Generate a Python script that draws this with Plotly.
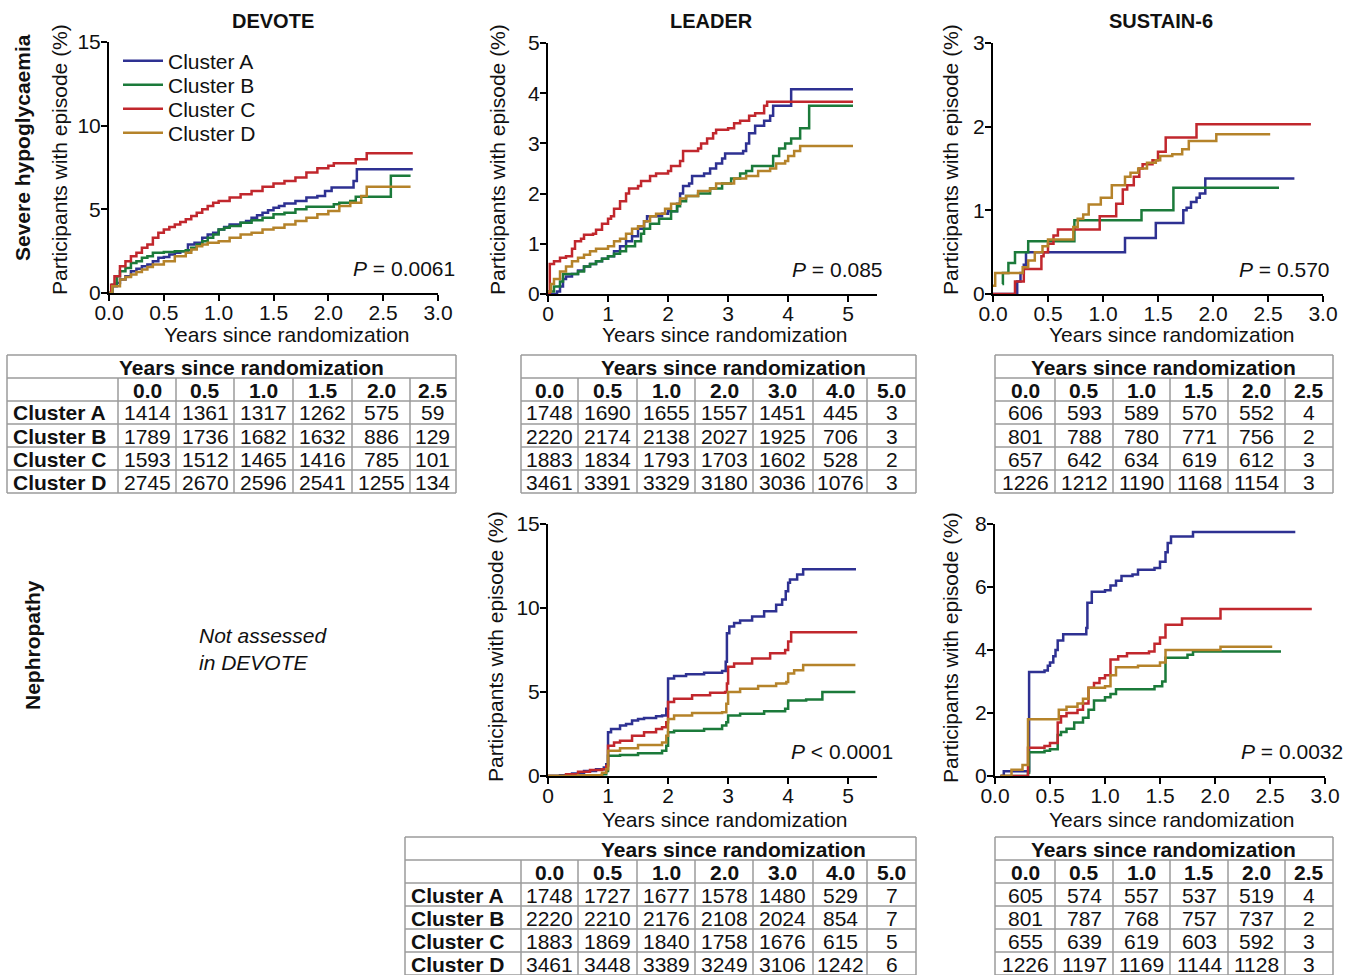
import plotly.graph_objects as go

W, H = 1358, 975
FONT = "Liberation Sans, Arial, sans-serif"
GRID = "#9b9b9b"
TXT = "#111111"


def fx(p):
    return p / W


def fy(p):
    return 1 - p / H


# ---------------- data ----------------
clusters = ["Cluster A", "Cluster B", "Cluster C", "Cluster D"]
colors = ["#2e3192", "#1b7a3a", "#c1272d", "#b5832a"]

# DEVOTE - severe hypoglycaemia
dev_t_A = [0, 0.03, 0.07, 0.1, 0.15, 0.2, 0.25, 0.3, 0.35, 0.4, 0.45, 0.5, 0.55, 0.6, 0.65, 0.72, 0.78, 0.85, 0.9, 0.95, 1.0, 1.05, 1.1, 1.2, 1.25, 1.3, 1.35, 1.4, 1.45, 1.5, 1.55, 1.6, 1.7, 1.8, 1.9, 1.97, 2.03, 2.23, 2.26, 2.77]
dev_y_A = [0, 0.4, 0.6, 0.8, 1.0, 1.3, 1.45, 1.6, 1.7, 1.9, 2.1, 2.15, 2.3, 2.4, 2.5, 2.9, 3.0, 3.3, 3.5, 3.6, 3.8, 3.95, 4.1, 4.2, 4.3, 4.5, 4.65, 4.8, 4.95, 5.1, 5.2, 5.35, 5.5, 5.7, 5.8, 6.1, 6.3, 6.7, 7.4, 7.4]
dev_t_B = [0, 0.03, 0.07, 0.1, 0.15, 0.2, 0.25, 0.3, 0.35, 0.4, 0.5, 0.6, 0.7, 0.75, 0.8, 0.85, 0.9, 0.95, 1.0, 1.05, 1.1, 1.2, 1.3, 1.4, 1.5, 1.6, 1.7, 1.8, 2.0, 2.05, 2.1, 2.2, 2.25, 2.57, 2.75]
dev_y_B = [0, 0.5, 1.0, 1.3, 1.5, 1.8, 1.9, 2.1, 2.2, 2.4, 2.45, 2.5, 2.55, 2.7, 2.9, 3.1, 3.3, 3.5, 3.8, 3.9, 4.0, 4.2, 4.35, 4.5, 4.7, 4.8, 5.0, 5.15, 5.15, 5.3, 5.4, 5.5, 5.75, 7.0, 7.0]
dev_t_C = [0, 0.02, 0.05, 0.1, 0.15, 0.2, 0.25, 0.3, 0.35, 0.4, 0.45, 0.5, 0.55, 0.6, 0.65, 0.7, 0.75, 0.8, 0.85, 0.9, 0.95, 1.0, 1.1, 1.2, 1.3, 1.4, 1.5, 1.6, 1.7, 1.8, 1.9, 2.0, 2.05, 2.25, 2.35, 2.77]
dev_y_C = [0, 0.5, 1.0, 1.6, 1.9, 2.2, 2.4, 2.7, 2.9, 3.3, 3.6, 3.8, 3.95, 4.1, 4.25, 4.4, 4.6, 4.8, 5.0, 5.2, 5.4, 5.5, 5.7, 5.9, 6.1, 6.35, 6.55, 6.7, 6.9, 7.2, 7.45, 7.6, 7.75, 8.0, 8.35, 8.35]
dev_t_D = [0, 0.03, 0.1, 0.15, 0.2, 0.25, 0.3, 0.35, 0.4, 0.5, 0.6, 0.7, 0.75, 0.8, 0.85, 0.9, 1.0, 1.1, 1.2, 1.3, 1.4, 1.5, 1.6, 1.7, 1.8, 1.9, 2.0, 2.1, 2.2, 2.3, 2.35, 2.75]
dev_y_D = [0, 0.4, 0.8, 0.95, 1.1, 1.25, 1.4, 1.55, 1.7, 1.9, 2.2, 2.4, 2.6, 2.8, 2.9, 3.0, 3.1, 3.3, 3.5, 3.6, 3.8, 3.9, 4.1, 4.3, 4.5, 4.7, 4.9, 5.2, 5.4, 5.8, 6.35, 6.35]

# LEADER - severe hypoglycaemia
lh_t_A = [0, 0.15, 0.2, 0.25, 0.3, 0.4, 0.5, 0.6, 0.7, 0.8, 0.9, 1.0, 1.1, 1.2, 1.3, 1.4, 1.5, 1.6, 1.65, 1.9, 2.0, 2.15, 2.2, 2.25, 2.35, 2.4, 2.6, 2.7, 2.8, 2.9, 2.95, 3.25, 3.3, 3.35, 3.45, 3.6, 3.7, 3.75, 4.05, 5.08]
lh_y_A = [0, 0.05, 0.15, 0.3, 0.35, 0.4, 0.47, 0.55, 0.6, 0.65, 0.7, 0.75, 0.85, 0.95, 1.05, 1.15, 1.3, 1.45, 1.55, 1.6, 1.65, 1.8, 2.0, 2.15, 2.2, 2.35, 2.4, 2.5, 2.6, 2.7, 2.8, 2.85, 3.0, 3.2, 3.35, 3.45, 3.55, 3.75, 4.08, 4.08]
lh_t_B = [0, 0.1, 0.2, 0.25, 0.5, 0.6, 0.7, 0.8, 0.9, 1.0, 1.1, 1.2, 1.3, 1.45, 1.55, 1.6, 1.7, 1.85, 2.05, 2.15, 2.2, 2.3, 2.5, 2.7, 2.9, 3.05, 3.2, 3.3, 3.4, 3.75, 3.85, 3.95, 4.05, 4.2, 4.35, 5.08]
lh_y_B = [0.05, 0.15, 0.25, 0.4, 0.45, 0.55, 0.6, 0.65, 0.7, 0.75, 0.8, 0.85, 0.95, 1.05, 1.2, 1.3, 1.4, 1.5, 1.65, 1.75, 1.85, 1.95, 2.0, 2.1, 2.2, 2.3, 2.4, 2.45, 2.55, 2.75, 2.9, 3.0, 3.1, 3.3, 3.75, 3.75]
lh_t_C = [0, 0.03, 0.1, 0.2, 0.3, 0.4, 0.45, 0.55, 0.6, 0.75, 0.8, 0.9, 1.0, 1.05, 1.1, 1.2, 1.3, 1.35, 1.5, 1.55, 1.7, 1.8, 2.0, 2.05, 2.2, 2.25, 2.5, 2.55, 2.65, 2.75, 2.8, 3.0, 3.1, 3.2, 3.35, 3.45, 3.6, 3.65, 5.08]
lh_y_C = [0, 0.6, 0.65, 0.72, 0.75, 0.9, 1.05, 1.1, 1.18, 1.2, 1.28, 1.4, 1.5, 1.55, 1.7, 1.85, 2.0, 2.1, 2.15, 2.25, 2.35, 2.4, 2.45, 2.55, 2.65, 2.85, 2.9, 3.0, 3.1, 3.2, 3.27, 3.3, 3.4, 3.45, 3.55, 3.6, 3.75, 3.83, 3.83]
lh_t_D = [0, 0.05, 0.1, 0.2, 0.3, 0.4, 0.5, 0.6, 0.7, 0.8, 1.0, 1.1, 1.2, 1.3, 1.4, 1.5, 1.6, 1.7, 1.8, 1.95, 2.05, 2.2, 2.3, 2.5, 2.7, 2.8, 3.1, 3.3, 3.5, 3.7, 3.8, 3.95, 4.0, 4.1, 4.2, 5.08]
lh_y_D = [0.05, 0.2, 0.3, 0.45, 0.55, 0.65, 0.72, 0.78, 0.85, 0.9, 0.95, 1.05, 1.1, 1.2, 1.3, 1.35, 1.45, 1.55, 1.6, 1.7, 1.8, 1.9, 1.95, 2.05, 2.1, 2.2, 2.3, 2.35, 2.45, 2.5, 2.6, 2.65, 2.75, 2.85, 2.95, 2.95]

# SUSTAIN-6 - severe hypoglycaemia
sh_t_A = [0, 0.2, 0.22, 0.25, 0.28, 0.3, 1.2, 1.48, 1.73, 1.76, 1.8, 1.85, 1.88, 1.93, 2.74]
sh_y_A = [0, 0, 0.15, 0.25, 0.35, 0.5, 0.67, 0.85, 1.0, 1.03, 1.1, 1.15, 1.2, 1.38, 1.38]
sh_t_B = [0.085, 0.09, 0.14, 0.2, 0.32, 0.74, 1.35, 1.64, 2.6]
sh_y_B = [0.12, 0.25, 0.37, 0.5, 0.63, 0.88, 1.0, 1.27, 1.27]
sh_t_C = [0, 0.19, 0.2, 0.28, 0.3, 0.44, 0.46, 0.5, 0.55, 0.59, 0.97, 1.12, 1.18, 1.22, 1.28, 1.33, 1.36, 1.45, 1.5, 1.57, 1.85, 2.89]
sh_y_C = [0, 0, 0.15, 0.3, 0.3, 0.45, 0.5, 0.6, 0.7, 0.77, 0.93, 1.08, 1.25, 1.3, 1.4, 1.5, 1.55, 1.6, 1.7, 1.87, 2.03, 2.03]
sh_t_D = [0, 0.02, 0.22, 0.27, 0.32, 0.38, 0.45, 0.5, 0.73, 0.77, 0.82, 0.87, 0.98, 1.08, 1.2, 1.25, 1.32, 1.4, 1.48, 1.52, 1.63, 1.72, 1.78, 2.03, 2.52]
sh_y_D = [0.1, 0.25, 0.25, 0.32, 0.4, 0.5, 0.57, 0.65, 0.8, 0.9, 0.95, 1.07, 1.15, 1.3, 1.4, 1.45, 1.5, 1.57, 1.6, 1.65, 1.67, 1.73, 1.83, 1.91, 1.91]

# LEADER - nephropathy
ln_t_A = [0, 0.2, 0.4, 0.6, 0.8, 0.93, 0.97, 1.0, 1.05, 1.2, 1.3, 1.4, 1.5, 1.6, 1.8, 1.9, 1.97, 2.0, 2.1, 2.3, 2.6, 2.9, 2.96, 2.98, 3.02, 3.1, 3.2, 3.4, 3.6, 3.8, 3.9, 3.96, 4.0, 4.03, 4.15, 4.25, 5.13]
ln_y_A = [0, 0.05, 0.15, 0.3, 0.4, 0.5, 0.7, 2.6, 2.8, 3.0, 3.1, 3.3, 3.4, 3.45, 3.55, 3.6, 4.0, 5.8, 5.95, 6.05, 6.15, 6.25, 6.8, 8.5, 8.9, 9.1, 9.25, 9.5, 9.8, 10.2, 10.5, 11.0, 11.5, 11.7, 12.0, 12.3, 12.3]
ln_t_B = [0, 0.5, 0.9, 0.97, 1.0, 1.2, 1.5, 1.9, 1.97, 2.0, 2.1, 2.6, 2.9, 2.97, 3.0, 3.2, 3.6, 3.95, 4.0, 4.3, 4.57, 5.12]
ln_y_B = [0, 0.03, 0.1, 0.3, 1.2, 1.25, 1.35, 1.5, 1.8, 2.6, 2.7, 2.8, 3.0, 3.2, 3.6, 3.7, 3.85, 4.0, 4.5, 4.55, 5.0, 5.0]
ln_t_C = [0, 0.3, 0.5, 0.7, 0.9, 0.97, 1.0, 1.1, 1.2, 1.4, 1.6, 1.8, 1.9, 1.97, 2.0, 2.1, 2.4, 2.7, 2.95, 2.98, 3.0, 3.1, 3.4, 3.7, 3.95, 4.0, 4.05, 5.15]
ln_y_C = [0, 0.1, 0.25, 0.35, 0.4, 0.6, 1.8, 2.0, 2.1, 2.4, 2.6, 2.8, 2.9, 3.2, 4.4, 4.6, 4.8, 4.95, 5.0, 5.5, 6.5, 6.7, 7.0, 7.3, 7.5, 8.0, 8.55, 8.55]
ln_t_D = [0, 0.5, 0.9, 0.97, 1.0, 1.2, 1.5, 1.9, 1.97, 2.0, 2.1, 2.4, 2.9, 2.97, 3.0, 3.2, 3.5, 3.8, 3.97, 4.0, 4.1, 4.25, 5.12]
ln_y_D = [0, 0.05, 0.2, 0.4, 1.5, 1.65, 1.85, 2.0, 2.4, 3.4, 3.6, 3.75, 3.8, 4.3, 5.0, 5.2, 5.35, 5.5, 5.6, 6.1, 6.3, 6.6, 6.6]

# SUSTAIN-6 - nephropathy
sn_t_A = [0.05, 0.08, 0.29, 0.31, 0.45, 0.48, 0.5, 0.53, 0.55, 0.57, 0.62, 0.8, 0.83, 0.84, 0.88, 1.0, 1.05, 1.1, 1.15, 1.25, 1.3, 1.45, 1.5, 1.55, 1.57, 1.6, 1.75, 1.8, 2.73]
sn_y_A = [0, 0.15, 0.15, 3.3, 3.35, 3.5, 3.6, 3.8, 4.0, 4.3, 4.5, 4.5, 4.7, 5.5, 5.85, 5.9, 6.05, 6.2, 6.35, 6.4, 6.55, 6.6, 6.8, 7.1, 7.4, 7.6, 7.6, 7.75, 7.75]
sn_t_B = [0.05, 0.3, 0.31, 0.45, 0.5, 0.57, 0.6, 0.65, 0.72, 0.8, 0.85, 0.9, 1.0, 1.05, 1.1, 1.45, 1.52, 1.55, 1.75, 1.8, 2.6]
sn_y_B = [0, 0.1, 0.75, 0.8, 0.85, 1.3, 1.4, 1.5, 1.7, 1.85, 2.1, 2.4, 2.5, 2.6, 2.75, 2.85, 3.0, 3.75, 3.85, 3.95, 3.95]
sn_t_C = [0.05, 0.25, 0.3, 0.45, 0.5, 0.57, 0.6, 0.65, 0.75, 0.8, 0.85, 0.9, 0.95, 1.0, 1.05, 1.12, 1.2, 1.4, 1.45, 1.5, 1.55, 1.7, 2.05, 2.88]
sn_y_C = [0, 0, 0.9, 0.95, 1.05, 1.7, 1.9, 2.0, 2.1, 2.3, 2.8, 2.95, 3.1, 3.2, 3.7, 3.8, 3.9, 3.95, 4.2, 4.4, 4.8, 5.0, 5.3, 5.3]
sn_t_D = [0.05, 0.15, 0.25, 0.3, 0.55, 0.58, 0.65, 0.75, 0.8, 0.85, 1.0, 1.05, 1.1, 1.3, 1.5, 1.55, 2.05, 2.52]
sn_y_D = [0, 0.2, 0.35, 1.8, 1.8, 2.1, 2.2, 2.3, 2.45, 2.8, 2.85, 3.2, 3.45, 3.5, 3.6, 4.0, 4.1, 4.1]

# Numbers at risk
dev_years = ["0.0", "0.5", "1.0", "1.5", "2.0", "2.5"]
dev_risk_A = [1414, 1361, 1317, 1262, 575, 59]
dev_risk_B = [1789, 1736, 1682, 1632, 886, 129]
dev_risk_C = [1593, 1512, 1465, 1416, 785, 101]
dev_risk_D = [2745, 2670, 2596, 2541, 1255, 134]

leader_years = ["0.0", "0.5", "1.0", "2.0", "3.0", "4.0", "5.0"]
lh_risk_A = [1748, 1690, 1655, 1557, 1451, 445, 3]
lh_risk_B = [2220, 2174, 2138, 2027, 1925, 706, 3]
lh_risk_C = [1883, 1834, 1793, 1703, 1602, 528, 2]
lh_risk_D = [3461, 3391, 3329, 3180, 3036, 1076, 3]

sustain_years = ["0.0", "0.5", "1.0", "1.5", "2.0", "2.5"]
sh_risk_A = [606, 593, 589, 570, 552, 4]
sh_risk_B = [801, 788, 780, 771, 756, 2]
sh_risk_C = [657, 642, 634, 619, 612, 3]
sh_risk_D = [1226, 1212, 1190, 1168, 1154, 3]

ln_risk_A = [1748, 1727, 1677, 1578, 1480, 529, 7]
ln_risk_B = [2220, 2210, 2176, 2108, 2024, 854, 7]
ln_risk_C = [1883, 1869, 1840, 1758, 1676, 615, 5]
ln_risk_D = [3461, 3448, 3389, 3249, 3106, 1242, 6]

sn_risk_A = [605, 574, 557, 537, 519, 4]
sn_risk_B = [801, 787, 768, 757, 737, 2]
sn_risk_C = [655, 639, 619, 603, 592, 3]
sn_risk_D = [1226, 1197, 1169, 1144, 1128, 3]

# ---------------- figure ----------------
fig = go.Figure()

panels = [
    ("", (109, 438), (42, 293), [0, 3], [0, 0.5, 1, 1.5, 2, 2.5, 3], ["0.0", "0.5", "1.0", "1.5", "2.0", "2.5", "3.0"],
     [0, 15], [0, 5, 10, 15],
     [(dev_t_A, dev_y_A), (dev_t_B, dev_y_B), (dev_t_C, dev_y_C), (dev_t_D, dev_y_D)]),
    ("2", (548, 877), (43, 294), [0, 5.48], [0, 1, 2, 3, 4, 5], ["0", "1", "2", "3", "4", "5"],
     [0, 5], [0, 1, 2, 3, 4, 5],
     [(lh_t_A, lh_y_A), (lh_t_B, lh_y_B), (lh_t_C, lh_y_C), (lh_t_D, lh_y_D)]),
    ("3", (993, 1323), (43, 294), [0, 3], [0, 0.5, 1, 1.5, 2, 2.5, 3], ["0.0", "0.5", "1.0", "1.5", "2.0", "2.5", "3.0"],
     [0, 3], [0, 1, 2, 3],
     [(sh_t_A, sh_y_A), (sh_t_B, sh_y_B), (sh_t_C, sh_y_C), (sh_t_D, sh_y_D)]),
    ("4", (548, 877), (524, 776), [0, 5.48], [0, 1, 2, 3, 4, 5], ["0", "1", "2", "3", "4", "5"],
     [0, 15], [0, 5, 10, 15],
     [(ln_t_A, ln_y_A), (ln_t_B, ln_y_B), (ln_t_C, ln_y_C), (ln_t_D, ln_y_D)]),
    ("5", (995, 1325), (524, 776), [0, 3], [0, 0.5, 1, 1.5, 2, 2.5, 3], ["0.0", "0.5", "1.0", "1.5", "2.0", "2.5", "3.0"],
     [0, 8], [0, 2, 4, 6, 8],
     [(sn_t_A, sn_y_A), (sn_t_B, sn_y_B), (sn_t_C, sn_y_C), (sn_t_D, sn_y_D)]),
]

axis_common = dict(showline=True, linecolor="black", linewidth=2, ticks="outside", ticklen=6,
                   tickwidth=2, tickcolor="black", showgrid=False, zeroline=False, automargin=False,
                   tickfont=dict(size=21, color=TXT, family=FONT), fixedrange=True)

legend_ids = ["legend", "legend2", "legend3", "legend4"]
legend_centers = [61, 85, 109, 133]

for pi, (sfx, xd, yd, xr, xt, xl, yr, yt, series) in enumerate(panels):
    for ci, (tt, yy) in enumerate(series):
        fig.add_trace(go.Scatter(
            x=tt, y=yy, mode="lines", line=dict(color=colors[ci], width=2.5, shape="hv"),
            name=clusters[ci], legendgroup=clusters[ci], showlegend=(pi == 0),
            legend=legend_ids[ci],
            xaxis="x" + sfx, yaxis="y" + sfx, hoverinfo="skip"))
    fig.layout["xaxis" + sfx] = dict(domain=[fx(xd[0]), fx(xd[1])], range=xr, tickvals=xt, ticktext=xl,
                                     anchor="y" + sfx, ticklabelstandoff=-6, **axis_common)
    fig.layout["yaxis" + sfx] = dict(domain=[fy(yd[1]), fy(yd[0])], range=yr, tickvals=yt,
                                     anchor="x" + sfx, ticklabelstandoff=-4, **axis_common)

shapes = []
annotations = []


def ann(text, x, y, size=21, xanchor="center", yanchor="middle", angle=0, align="center"):
    annotations.append(dict(text=text, x=fx(x), y=fy(y), xref="paper", yref="paper", showarrow=False,
                            xanchor=xanchor, yanchor=yanchor, textangle=angle, align=align,
                            font=dict(size=size, color=TXT, family=FONT)))


def line(x0, y0, x1, y1):
    shapes.append(dict(type="line", xref="paper", yref="paper", x0=fx(x0), y0=fy(y0), x1=fx(x1), y1=fy(y1),
                       line=dict(color=GRID, width=1.5)))


# ---------------- number-at-risk tables ----------------
ROW_H = 23


def add_table(edges, top, years, rows, labels, title_cx):
    left, right = edges[0], edges[-1]
    nrows = 2 + len(rows)
    bottom = top + nrows * ROW_H
    for k in range(nrows + 1):
        line(left, top + k * ROW_H, right, top + k * ROW_H)
    line(left, top, left, bottom)
    line(right, top, right, bottom)
    for e in edges[1:-1]:
        line(e, top + ROW_H, e, bottom)
    ann("<b>Years since randomization</b>", title_cx, top + ROW_H / 2 + 0.5)
    first = 1 if labels else 0
    for j, yr in enumerate(years):
        cx = (edges[first + j] + edges[first + j + 1]) / 2
        ann("<b>%s</b>" % yr, cx, top + 1.5 * ROW_H + 0.5)
        for i, r in enumerate(rows):
            ann(str(r[j]), cx, top + (2.5 + i) * ROW_H + 0.5)
    if labels:
        for i, lab in enumerate(labels):
            ann("<b>%s</b>" % lab, edges[0] + 4, top + (2.5 + i) * ROW_H + 0.5, xanchor="left")


add_table([7, 118, 176, 234, 293, 352, 410, 456], 355, dev_years,
          [dev_risk_A, dev_risk_B, dev_risk_C, dev_risk_D], clusters, 251)
add_table([521, 578, 637, 695, 753, 813, 867, 916], 355, leader_years,
          [lh_risk_A, lh_risk_B, lh_risk_C, lh_risk_D], None, 733)
add_table([995, 1055, 1113, 1170, 1228, 1285, 1333], 355, sustain_years,
          [sh_risk_A, sh_risk_B, sh_risk_C, sh_risk_D], None, 1163)
add_table([405, 521, 578, 637, 695, 753, 813, 867, 916], 837, leader_years,
          [ln_risk_A, ln_risk_B, ln_risk_C, ln_risk_D], clusters, 733)
add_table([995, 1055, 1113, 1170, 1228, 1285, 1333], 837, sustain_years,
          [sn_risk_A, sn_risk_B, sn_risk_C, sn_risk_D], None, 1163)

# ---------------- text ----------------
ann("<b>DEVOTE</b>", 273, 21, size=20)
ann("<b>LEADER</b>", 711, 21, size=20)
ann("<b>SUSTAIN-6</b>", 1161, 21, size=20)

ann("<b>Severe hypoglycaemia</b>", 22, 148, size=21, angle=-90)
ann("<b>Nephropathy</b>", 32, 645, size=21, angle=-90)
ann("<i>Not assessed<br>in DEVOTE</i>", 197, 649, xanchor="left", align="left")

for cx, cy in [(60, 160), (497, 159), (950, 159), (495, 647), (950, 647)]:
    ann("Participants with episode (%)", cx, cy, angle=-90)
for cx, cy in [(287, 334), (725, 334), (1172, 334), (725, 819), (1172, 819)]:
    ann("Years since randomization", cx, cy)

ann("<i>P</i> = 0.0061", 457, 268, xanchor="right")
ann("<i>P</i> = 0.085", 885, 269, xanchor="right")
ann("<i>P</i> = 0.570", 1332, 269, xanchor="right")
ann("<i>P</i> < 0.0001", 895, 751, xanchor="right")
ann("<i>P</i> = 0.0032", 1345, 751, xanchor="right")

layout_legends = {}
for lid, cy in zip(legend_ids, legend_centers):
    layout_legends[lid] = dict(x=fx(118), y=fy(cy), xanchor="left", yanchor="middle",
                               bgcolor="rgba(0,0,0,0)", borderwidth=0,
                               font=dict(size=21, color=TXT, family=FONT), itemwidth=40)

fig.update_layout(
    width=W, height=H, margin=dict(l=0, r=0, t=0, b=0, pad=0, autoexpand=False),
    paper_bgcolor="white", plot_bgcolor="white",
    font=dict(family=FONT, size=21, color=TXT),
    shapes=shapes, annotations=annotations,
    showlegend=True,
    **layout_legends,
)

fig.write_html("out.html", config={"displayModeBar": False, "staticPlot": False},
               post_script="document.body.style.margin='0';document.body.style.overflow='hidden';")
